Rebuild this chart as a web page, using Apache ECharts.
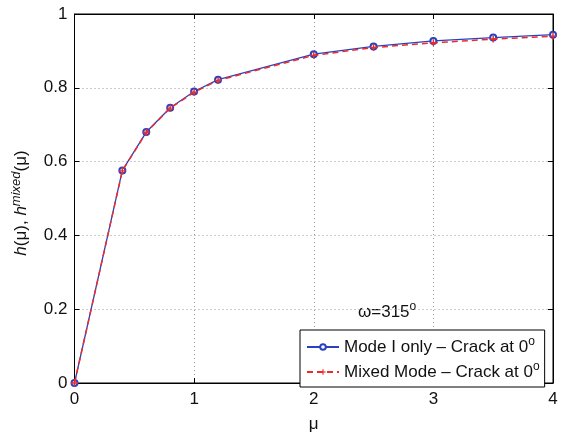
<!DOCTYPE html>
<html>
<head>
<meta charset="utf-8">
<script src="https://cdn.jsdelivr.net/npm/echarts@6/dist/echarts.min.js"></script>
<style>
  html, body { margin: 0; padding: 0; background: #fff; }
  #main { width: 561px; height: 438px; }
</style>
</head>
<body>
<div id="main"></div>
<script>
// values
var muValues = [0, 0.4, 0.6, 0.8, 1.0, 1.2, 2, 2.5, 3, 3.5, 4];
var modeIOnly = [0, 0.576, 0.680, 0.746, 0.790, 0.822, 0.891, 0.912, 0.927, 0.936, 0.944];
var mixedMode = [0, 0.575, 0.679, 0.745, 0.788, 0.820, 0.888, 0.909, 0.922, 0.932, 0.940];
var xTicks = [0, 1, 2, 3, 4];
var yTicks = [0, 0.2, 0.4, 0.6, 0.8, 1];

var blue = '#2a42c0';
var red = '#ec2b2b';
var font = '"Liberation Sans", Arial, sans-serif';
var plusPath = 'path://M4,0 L6,0 L6,4 L10,4 L10,6 L6,6 L6,10 L4,10 L4,6 L0,6 L0,4 L4,4 Z';

function pairs(xs, ys) {
  return xs.map(function (x, i) { return [x, ys[i]]; });
}

var supStyle = { fontSize: 12, fontFamily: font, color: '#111', padding: [0, 0, 10, 0] };

var myChart = echarts.init(document.getElementById('main'));
var axisCommon = {
  type: 'value',
  axisLine: { show: true, onZero: false, lineStyle: { color: '#000', width: 1 } },
  axisTick: { show: true, inside: true, length: 5, lineStyle: { color: '#000' } },
  splitLine: { show: false }
};
var options = {
  animation: false,
  backgroundColor: '#fff',
  grid: { left: 74.5, right: 8, top: 14, bottom: 47, show: true, borderColor: '#000', borderWidth: 1 },
  xAxis: [
    Object.assign({}, axisCommon, {
      min: 0, max: 4, interval: 1,
      axisLabel: { color: '#111', fontSize: 17, fontFamily: font, margin: 8,
        formatter: function (v) { return xTicks.indexOf(v) >= 0 ? String(v) : ''; } },
      splitLine: { show: true, lineStyle: { color: '#999', type: [1, 3], width: 1 } },
      name: 'μ', nameLocation: 'middle', nameGap: 33,
      nameTextStyle: { color: '#111', fontSize: 17, fontFamily: font }
    }),
    Object.assign({}, axisCommon, { position: 'top', min: 0, max: 4, interval: 1, axisLabel: { show: false } })
  ],
  yAxis: [
    Object.assign({}, axisCommon, {
      min: 0, max: 1, interval: 0.2,
      axisLabel: { color: '#111', fontSize: 17, fontFamily: font, margin: 7,
        formatter: function (v) {
          var r = Math.round(v * 10) / 10;
          return yTicks.indexOf(r) >= 0 ? String(r) : '';
        } },
      splitLine: { show: true, lineStyle: { color: '#999', type: [1, 3], width: 1 } }
    }),
    Object.assign({}, axisCommon, { position: 'right', min: 0, max: 1, interval: 0.2, axisLabel: { show: false } })
  ],
  legend: {
    orient: 'vertical',
    left: 300, top: 330,
    padding: [6, 5, 5, 6],
    itemWidth: 32, itemHeight: 7, itemGap: 4,
    borderColor: '#000', borderWidth: 1, backgroundColor: '#fff',
    data: ['Mode I only', 'Mixed Mode'],
    formatter: function (name) {
      return name === 'Mode I only'
        ? 'Mode I only – Crack at 0{sup|o}'
        : 'Mixed Mode – Crack at 0{sup|o}';
    },
    textStyle: { color: '#111', fontSize: 17, fontFamily: font, lineHeight: 20, rich: { sup: supStyle } }
  },
  graphic: [
    {
      type: 'text', x: 358, y: 312,
      style: { text: 'ω=315{sup|o}', font: '17px ' + font, fill: '#111', verticalAlign: 'middle', rich: { sup: supStyle } }
    },
    {
      type: 'text', x: 21, y: 203, rotation: Math.PI / 2,
      style: {
        text: '{it|h}(μ), {it|h}{sup|mixed}(μ)',
        font: '17px ' + font, fill: '#111', align: 'center', verticalAlign: 'middle',
        rich: {
          it: { fontSize: 17, fontFamily: font, fontStyle: 'italic', color: '#111' },
          sup: { fontSize: 13, fontFamily: font, fontStyle: 'italic', color: '#111', padding: [0, 0, 10, 0] }
        }
      }
    }
  ],
  series: [
    {
      name: 'Mode I only', type: 'line',
      data: pairs(muValues, modeIOnly),
      symbol: 'emptyCircle', symbolSize: 6,
      lineStyle: { color: blue, width: 1.3 },
      itemStyle: { color: blue, borderColor: blue, borderWidth: 1.3 },
      z: 2
    },
    {
      name: 'Mixed Mode', type: 'line',
      data: pairs(muValues, mixedMode),
      symbol: plusPath, symbolSize: 7,
      lineStyle: { color: red, width: 1.5, type: [6, 4] },
      itemStyle: { color: red },
      z: 3
    }
  ]
};
myChart.setOption(options);
</script>
</body>
</html>
